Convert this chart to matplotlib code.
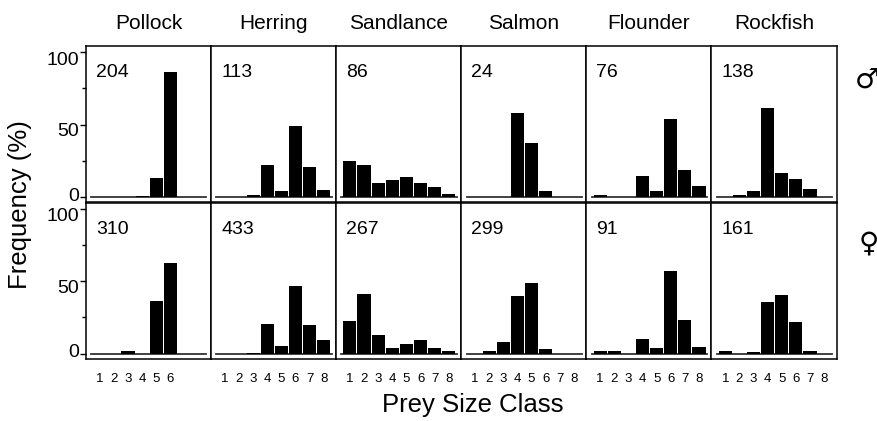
import numpy as np
import matplotlib.pyplot as plt
import matplotlib.transforms as mtransforms
from matplotlib.ticker import MultipleLocator

plt.rcParams['font.family'] = ['Liberation Sans', 'DejaVu Sans']

# prey species (columns) and sample sizes
species = ['Pollock', 'Herring', 'Sandlance', 'Salmon', 'Flounder', 'Rockfish']
n_male = [204, 113, 86, 24, 76, 138]
n_female = [310, 433, 267, 299, 91, 161]

# frequency (%) per prey size class, male (top row)
male = {
    'Pollock':   [0, 0, 0, 1, 13.4, 86.2],
    'Herring':   [0, 0, 1.5, 21.9, 3.9, 49, 20.5, 4.6],
    'Sandlance': [24.7, 21.9, 9.7, 12, 14, 9.7, 7.1, 2.5],
    'Salmon':    [0, 0, 0, 58.3, 37.6, 4.4, 0, 0],
    'Flounder':  [1.6, 0, 0, 14.5, 4.4, 54.1, 18.4, 7.8],
    'Rockfish':  [0, 1.8, 3.9, 61.8, 16.4, 12.4, 5.3, 0],
}
# female (bottom row)
female = {
    'Pollock':   [0, 0, 1.6, 0, 36, 62.4],
    'Herring':   [0, 0, 0.7, 20.2, 5.5, 46.6, 19.5, 9.4],
    'Sandlance': [22.7, 41.3, 13.1, 4.1, 6.4, 9.4, 4.1, 1.6],
    'Salmon':    [0, 1.6, 8.3, 40.1, 48.6, 3, 0, 0],
    'Flounder':  [1.6, 1.6, 0, 10.3, 3.7, 57.3, 23.4, 4.6],
    'Rockfish':  [1.6, 0, 0.9, 35.3, 40.8, 21.6, 1.6, 0],
}
yticks = [0, 50, 100]

W, H = 878, 421
fig = plt.figure(figsize=(W / 100, H / 100), dpi=100)

x0, pw = 86, 125.1
rows = [(46, 202.5), (202.5, 359)]
# small vertical nudges of the y tick labels (pixels, up positive)
label_dy = {0: 3, 50: -5, 100: -6}

for r, (data, counts) in enumerate([(male, n_male), (female, n_female)]):
    top, bot = rows[r]
    for c, sp in enumerate(species):
        left = x0 + c * pw
        ax = fig.add_axes([left / W, 1 - bot / H, pw / W, (bot - top) / H])
        vals = data[sp]
        cls = np.arange(1, len(vals) + 1)
        ax.plot([0.4, 8.55], [0, 0], color='#333333', lw=1.3, zorder=1)
        ax.bar(cls, vals, width=0.93, color='black', zorder=2)
        ax.set_xlim(0.03, 8.88)
        ax.set_ylim(-3.7, 104.3)
        for s in ax.spines.values():
            s.set_linewidth(1.1)
        ax.text(0.08, 0.83, str(counts[c]), transform=ax.transAxes,
                fontsize=14, va='center', ha='left')
        if c == 0:
            ax.set_yticks(yticks)
            ax.set_yticklabels([str(v) for v in yticks])
            ax.yaxis.set_minor_locator(MultipleLocator(25))
            ax.tick_params(axis='y', which='major', length=4, width=1,
                           labelsize=14, pad=1)
            ax.tick_params(axis='y', which='minor', length=3, width=1)
            for v, tick in zip(yticks, ax.yaxis.get_major_ticks()):
                off = mtransforms.ScaledTranslation(0, label_dy[v] / 100,
                                                    fig.dpi_scale_trans)
                tick.label1.set_transform(tick.label1.get_transform() + off)
        else:
            ax.set_yticks([])
        if r == 1:
            ax.set_xticks(cls)
            ax.tick_params(axis='x', length=0, labelsize=9.5, pad=10)
        else:
            ax.set_xticks([])
            ax.set_title(sp, fontsize=15, pad=12)

fig.text(20 / W, 1 - 205 / H, 'Frequency (%)', rotation=90, fontsize=18.5,
         ha='center', va='center')
fig.text(473 / W, 1 - 405 / H, 'Prey Size Class', fontsize=18.5,
         ha='center', va='center')
fig.text(867 / W, 1 - 80 / H, '\u2642', fontsize=20, ha='center', va='center',
         family=['DejaVu Sans'])
fig.text(869 / W, 1 - 243 / H, '\u2640', fontsize=20, ha='center', va='center',
         family=['DejaVu Sans'])

plt.savefig('out.png', dpi=100)
plt.close()
